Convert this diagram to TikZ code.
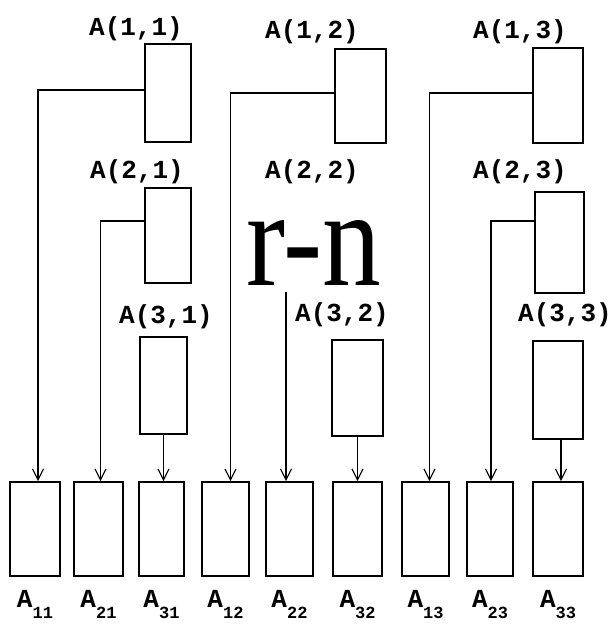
\documentclass[tikz,border=0pt]{standalone}
\usepackage{fontspec}
\setmonofont{Liberation Mono}
\newfontfamily\rnfont{Liberation Serif}
\usetikzlibrary{arrows.meta}
\begin{document}
\begin{tikzpicture}[x=1pt,y=-1pt,
  box/.style={draw, line width=1.6pt, inner sep=0pt},
  conn/.style={line width=1.2pt},
  arr/.style={conn, -{Straight Barb[length=11pt,width=11pt]}},
  lab/.style={font=\ttfamily\bfseries\fontsize{26}{26}\selectfont, anchor=base, inner sep=0pt},
  blab/.style={font=\ttfamily\bfseries\fontsize{26}{26}\selectfont, anchor=base, inner sep=0pt}]
\useasboundingbox (0,0) rectangle (613,627);
% top row boxes
\node[box, minimum width=46pt, minimum height=98pt] (T11) at (168,93) {};
\node[box, minimum width=46pt, minimum height=95pt] (T21) at (168,235.5) {};
\node[box, minimum width=51pt, minimum height=94pt] (T12) at (360.5,96) {};
\node[box, minimum width=50pt, minimum height=95pt] (T13) at (558,95.5) {};
\node[box, minimum width=49pt, minimum height=101pt] (T23) at (559.5,242.5) {};
\node[box, minimum width=47pt, minimum height=97pt] (T31) at (163.5,385.5) {};
\node[box, minimum width=51pt, minimum height=96pt] (T32) at (357.5,388) {};
\node[box, minimum width=50pt, minimum height=98pt] (T33) at (558,390) {};
% labels
\node[lab] (L11) at (136,35) {A(1,1)};
\node[lab] (L21) at (137,178) {A(2,1)};
\node[lab] (L12) at (312,38) {A(1,2)};
\node[lab] (L22) at (312,178) {A(2,2)};
\node[lab] (L13) at (520,38) {A(1,3)};
\node[lab] (L23) at (520,178) {A(2,3)};
\node[lab] (L31) at (166,323) {A(3,1)};
\node[lab] (L32) at (342,321) {A(3,2)};
\node[lab] (L33) at (565,321) {A(3,3)};
% big text
\node[font=\rnfont\fontsize{138}{138}\selectfont, anchor=base, inner sep=0pt, text height=68pt, text depth=0pt, xscale=0.85] (rn) at (313.5,285) {r-n};
% bottom boxes
\node[box, minimum width=50pt, minimum height=94pt] (B11) at (35,529) {};
\node[box, minimum width=49pt, minimum height=94pt] (B21) at (98.5,529) {};
\node[box, minimum width=45pt, minimum height=94pt] (B31) at (161.5,529) {};
\node[box, minimum width=47pt, minimum height=94pt] (B12) at (225.5,529) {};
\node[box, minimum width=47pt, minimum height=94pt] (B22) at (289.5,529) {};
\node[box, minimum width=49pt, minimum height=94pt] (B32) at (357.5,529) {};
\node[box, minimum width=47pt, minimum height=94pt] (B13) at (425.5,529) {};
\node[box, minimum width=46pt, minimum height=94pt] (B23) at (490,529) {};
\node[box, minimum width=50pt, minimum height=94pt] (B33) at (558,529) {};
% bottom labels
\foreach \n/\x/\s in {B11/35/11, B21/98.5/21, B31/161.5/31, B12/225.5/12, B22/289.5/22, B32/357.5/32, B13/425.5/13, B23/490/23, B33/558/33}{
  \node[blab] (N\n) at (\x,607) {A\raisebox{-11pt}{\fontsize{17}{17}\selectfont\s}};
}
% connectors
\draw[arr] ([yshift=3pt]T11.west) -| ([xshift=3pt]B11.north);
\draw[arr] ([yshift=14.5pt]T21.west) -| ([xshift=2pt]B21.north);
\draw[arr] ([yshift=3pt]T12.west) -| ([xshift=5pt]B12.north);
\draw[arr] ([yshift=2.5pt]T13.west) -| ([xshift=4pt]B13.north);
\draw[arr] ([yshift=21.5pt]T23.west) -| ([xshift=1pt]B23.north);
\coordinate (S22) at (286,292);
\draw[arr] (S22) -- (S22 |- B22.north);
\draw[arr] (T31.south) -- (T31.south |- B31.north);
\draw[arr] (T32.south) -- (T32.south |- B32.north);
\draw[arr] ([xshift=3pt]T33.south) -- ([xshift=3pt]T33.south |- B33.north);
\end{tikzpicture}
\end{document}
